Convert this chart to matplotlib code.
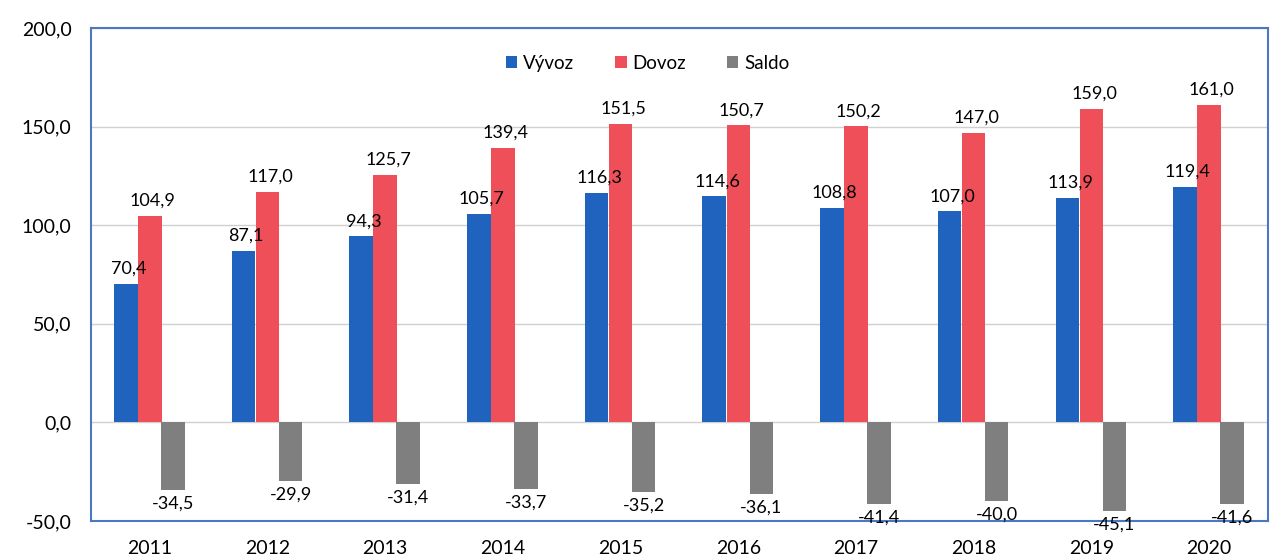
import numpy as np
from matplotlib import pyplot as plt

plt.rcParams['font.family'] = ['Lato', 'DejaVu Sans']

years = ['2011', '2012', '2013', '2014', '2015', '2016', '2017', '2018', '2019', '2020']
vyvoz = [70.4, 87.1, 94.3, 105.7, 116.3, 114.6, 108.8, 107.0, 113.9, 119.4]
dovoz = [104.9, 117.0, 125.7, 139.4, 151.5, 150.7, 150.2, 147.0, 159.0, 161.0]
saldo = [-34.5, -29.9, -31.4, -33.7, -35.2, -36.1, -41.4, -40.0, -45.1, -41.6]

def fmt(v):
    return ('%.1f' % v).replace('.', ',')

fig = plt.figure(figsize=(12.84, 5.58), dpi=100)
ax = fig.add_axes([0.0709, 0.0663, 0.9166, 0.8835])

x = np.arange(len(years))
w = 0.2
b1 = ax.bar(x - 0.205, vyvoz, w, color='#1F63BF', label='Vývoz', zorder=3)
b2 = ax.bar(x, dovoz, w, color='#EE4F58', label='Dovoz', zorder=3)
b3 = ax.bar(x + 0.195, saldo, w, color='#7F7F7F', label='Saldo', zorder=3)

for bars, vals in [(b1, vyvoz), (b2, dovoz)]:
    for r, v in zip(bars, vals):
        ax.annotate(fmt(v), (r.get_x() + r.get_width() / 2, v), xytext=(2, 5),
                    textcoords='offset points', ha='center', va='bottom', fontsize=13)
for r, v in zip(b3, saldo):
    ax.annotate(fmt(v), (r.get_x() + r.get_width() / 2, v), xytext=(0, -4),
                textcoords='offset points', ha='center', va='top', fontsize=13)

ax.set_xlim(-0.5, len(years) - 0.5)
ax.set_ylim(-50, 200)
ax.set_yticks([-50, 0, 50, 100, 150, 200])
ax.set_yticklabels([fmt(t) for t in [-50, 0, 50, 100, 150, 200]])
ax.set_xticks(x)
ax.set_xticklabels(years)
ax.tick_params(length=0, labelsize=14)
ax.tick_params(axis='y', pad=14)
ax.tick_params(axis='x', pad=14)
ax.grid(axis='y', color='#D0D0D0', linewidth=1, zorder=0)
for s in ax.spines.values():
    s.set_color('#4A78C4')
    s.set_linewidth(1.5)

ax.legend(loc='center', bbox_to_anchor=(0.473, 0.929), ncol=3, frameon=False,
          fontsize=13.5, handlelength=0.6, handleheight=0.6, handletextpad=0.3,
          columnspacing=2.2)

fig.savefig('out.png', dpi=100)
